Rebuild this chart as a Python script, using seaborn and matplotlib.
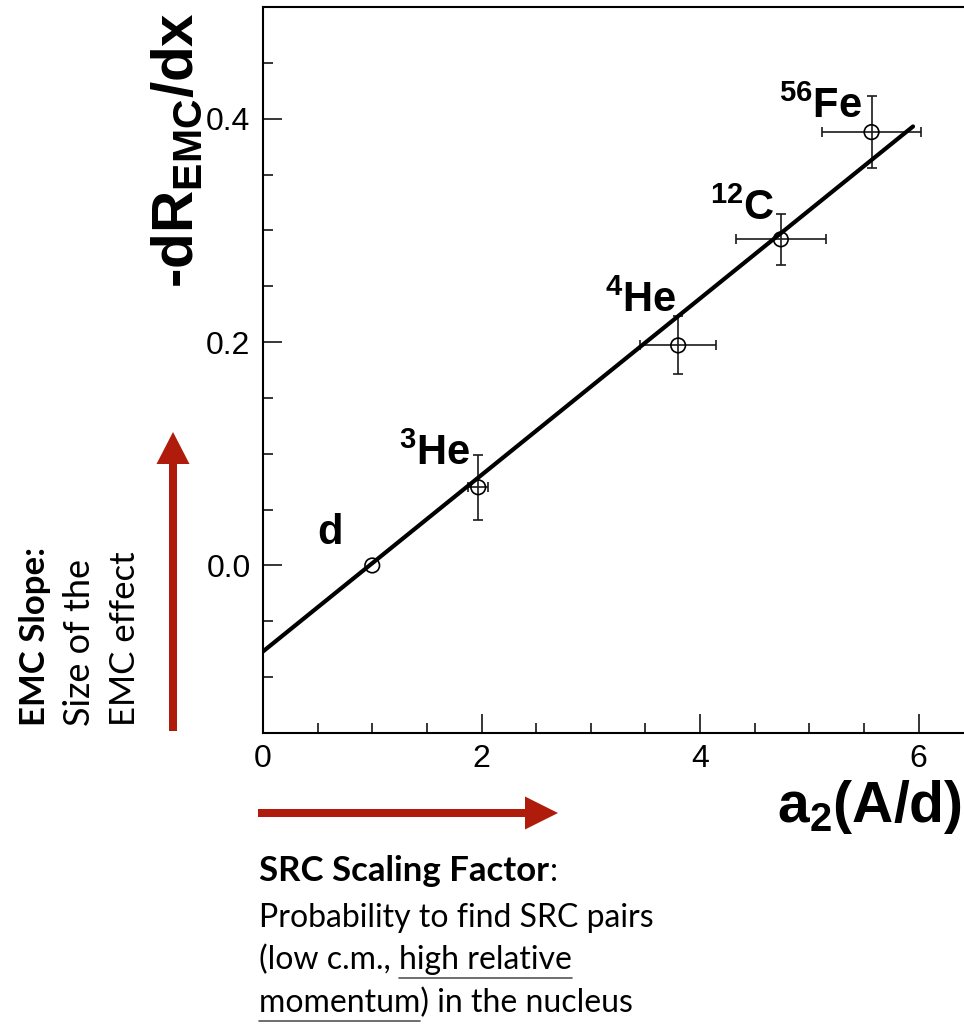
import numpy as np
import pandas as pd
import matplotlib
matplotlib.use("Agg")
import matplotlib.pyplot as plt
import seaborn as sns
from matplotlib.patches import FancyArrow
from matplotlib.ticker import MultipleLocator

# --- data -------------------------------------------------------------
nuclei = ["d", "3He", "4He", "12C", "56Fe"]
mass_numbers = ["", "3", "4", "12", "56"]
symbols = ["d", "He", "He", "C", "Fe"]
a2_values = [1.00, 1.97, 3.80, 4.74, 5.57]
a2_errors = [0.00, 0.09, 0.35, 0.41, 0.45]
emc_slopes = [0.000, 0.070, 0.197, 0.292, 0.388]
emc_errors = [0.000, 0.029, 0.026, 0.023, 0.032]

fit_slope = 0.079
fit_intercept = -0.077
fit_range = [0.0, 5.95]

x_ticks = [0, 2, 4, 6]
y_ticks = [0.0, 0.2, 0.4]

df = pd.DataFrame({"nucleus": nuclei, "a2": a2_values, "a2_err": a2_errors,
                   "slope": emc_slopes, "slope_err": emc_errors})
fit_df = pd.DataFrame({"a2": fit_range})
fit_df["slope"] = fit_slope * fit_df["a2"] + fit_intercept

# --- style ------------------------------------------------------------
sns.set_theme(style="ticks")
plt.rcParams["font.family"] = ["Liberation Sans", "DejaVu Sans"]
plt.rcParams["mathtext.fontset"] = "custom"
plt.rcParams["mathtext.rm"] = "Liberation Sans"
plt.rcParams["mathtext.bf"] = "Liberation Sans:bold"
plt.rcParams["mathtext.it"] = "Liberation Sans:italic"
for key in ["text.color", "axes.labelcolor", "xtick.color", "ytick.color",
            "axes.edgecolor"]:
    plt.rcParams[key] = "black"

W, H = 964, 1024
fig = plt.figure(figsize=(W / 100, H / 100), dpi=100)

# main axes (right edge runs past the canvas)
x_max = 6.5
px_per_unit = 109.25
ax_left, ax_top, ax_bottom = 263, 7, 733
ax = fig.add_axes([ax_left / W, 1 - ax_bottom / H,
                   x_max * px_per_unit / W, (ax_bottom - ax_top) / H])

RED = "#B01C0C"

# fit line
sns.lineplot(data=fit_df, x="a2", y="slope", ax=ax, color="black",
             linewidth=3.0, zorder=3)

# error bars (only for points that carry an uncertainty)
err_df = df[(df["a2_err"] > 0) | (df["slope_err"] > 0)]
ax.errorbar(err_df["a2"], err_df["slope"], xerr=err_df["a2_err"],
            yerr=err_df["slope_err"], fmt="none", ecolor="#1a1a1a",
            elinewidth=1.2, capsize=3.5, capthick=1.2, zorder=2)

# open circle markers
sns.scatterplot(data=df, x="a2", y="slope", ax=ax, marker="o", s=110,
                facecolor="none", edgecolor="black", linewidth=1.2, zorder=4)

# nucleus labels
label_pos = [(0.61, 0.019), (1.574, 0.090), (3.46, 0.227),
             (4.385, 0.309), (5.107, 0.401)]
for mass, sym, (lx, ly) in zip(mass_numbers, symbols, label_pos):
    txt = sym if not mass else r"$^{\mathbf{%s}}$%s" % (mass, sym)
    ax.text(lx, ly, txt, ha="center", va="baseline", fontsize=30,
            fontweight="bold", color="black", zorder=5)

ax.set_xlim(0, x_max)
ax.set_ylim(-0.15, 0.5)
ax.set_xticks(x_ticks)
ax.set_yticks(y_ticks)
ax.set_xticklabels([str(v) for v in x_ticks])
ax.set_yticklabels([f"{v:.1f}" for v in y_ticks])
ax.xaxis.set_minor_locator(MultipleLocator(0.5))
ax.yaxis.set_minor_locator(MultipleLocator(0.05))
ax.tick_params(which="both", direction="in", top=False, right=False,
               colors="black", width=1.1)
ax.tick_params(which="major", length=14, labelsize=23)
ax.tick_params(axis="y", which="major", pad=9)
ax.tick_params(axis="x", which="major", pad=8)
ax.tick_params(which="minor", length=7)
ax.set_xlabel("")
ax.set_ylabel("")
for side in ["left", "bottom", "top"]:
    ax.spines[side].set_linewidth(1.5)
    ax.spines[side].set_color("black")
ax.spines["right"].set_visible(False)
ax.set_facecolor("white")
ax.grid(False)

# --- overlay in pixel coordinates for annotations -------------------
ov = fig.add_axes([0, 0, 1, 1], facecolor="none")
ov.set_xlim(0, W)
ov.set_ylim(H, 0)
ov.axis("off")

# axis titles
ov.text(777, 822, r"a$_{\mathbf{2}}$(A/d)", fontsize=41, fontweight="bold",
        ha="left", va="baseline", color="black")
ov.text(193, 288, r"-dR$_{\mathbf{EMC}}$/dx", fontsize=42, fontweight="bold",
        rotation=90, rotation_mode="anchor", ha="left", va="baseline",
        color="black")

# arrows
ov.add_patch(FancyArrow(173, 731, 0, -299, width=8, head_width=33,
                        head_length=32, length_includes_head=True,
                        color=RED, linewidth=0))
ov.add_patch(FancyArrow(258, 813, 300, 0, width=8, head_width=33,
                        head_length=33, length_includes_head=True,
                        color=RED, linewidth=0))

note_font = ["Lato", "DejaVu Sans"]

# vertical note beside the y axis
ov.text(45, 726, "EMC Slope:", fontsize=25, fontweight="bold", family=note_font,
        rotation=90, rotation_mode="anchor", ha="left", va="baseline",
        color="black")
ov.text(90, 726, "Size of the", fontsize=26, family=note_font,
        rotation=90, rotation_mode="anchor", ha="left", va="baseline",
        color="black")
ov.text(135, 726, "EMC effect", fontsize=25, family=note_font,
        rotation=90, rotation_mode="anchor", ha="left", va="baseline",
        color="black")

# note under the x axis
fig.canvas.draw()
renderer = fig.canvas.get_renderer()


def text_width(s, **kw):
    t = ov.text(0, 0, s, **kw)
    w = t.get_window_extent(renderer).width
    t.remove()
    return w


x0 = 259
fs_bold, fs_reg = 25, 23
bold_kw = dict(fontsize=fs_bold, fontweight="bold", family=note_font,
               color="black")
reg_kw = dict(fontsize=fs_reg, family=note_font, color="black")

ov.text(x0, 881, "SRC Scaling Factor", ha="left", va="baseline", **bold_kw)
w_head = text_width("SRC Scaling Factor", **bold_kw)
ov.text(x0 + w_head + 1, 881, ":", ha="left", va="baseline", **reg_kw)

lines = ["Probability to find SRC pairs",
         "(low c.m., high relative",
         "momentum) in the nucleus"]
baselines = [927, 969, 1012]
for s, yb in zip(lines, baselines):
    ov.text(x0, yb, s, ha="left", va="baseline", **reg_kw)

# underlines
u_start = text_width("(low c.m., h", **reg_kw) - text_width("h", **reg_kw)
u_end = text_width("(low c.m., high relative", **reg_kw)
ov.plot([x0 + u_start, x0 + u_end], [baselines[1] + 9] * 2,
        color="#555555", linewidth=1.2)
u_end2 = text_width("momentum", **reg_kw)
ov.plot([x0, x0 + u_end2], [baselines[2] + 9] * 2,
        color="#555555", linewidth=1.2)

fig.savefig("out.png", dpi=100, facecolor="white")
